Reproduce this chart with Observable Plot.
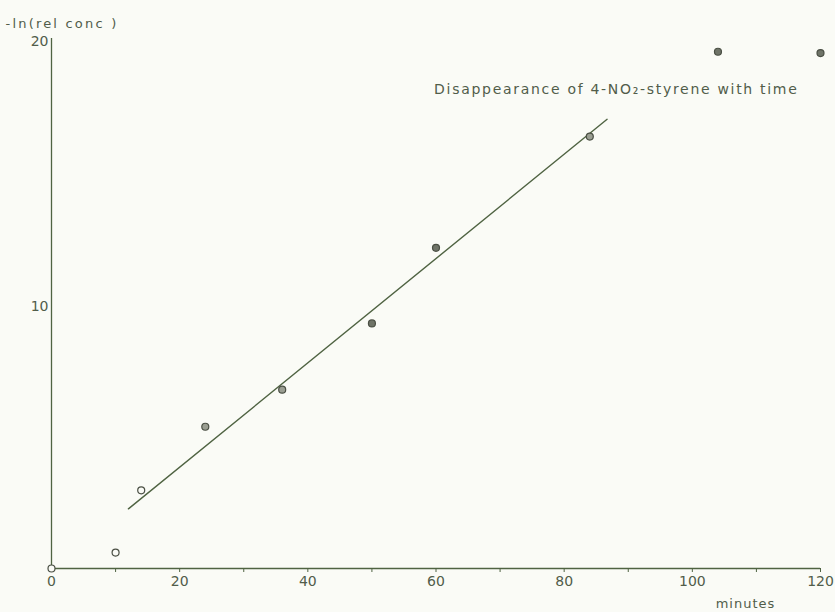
<!DOCTYPE html>
<html>
<head>
<meta charset="utf-8">
<script src="https://cdn.jsdelivr.net/npm/d3@7"></script>
<script src="https://cdn.jsdelivr.net/npm/@observablehq/plot@0.6"></script>
<style>
  html, body { margin: 0; padding: 0; background: #fafbf6; }
  #chart { width: 835px; height: 612px; }
</style>
</head>
<body>
<div id="chart"></div>
<script>
// Measured -ln(relative concentration) of 4-NO2-styrene against time
const minutes = [0, 10, 14, 24, 36, 50, 60, 84, 104, 120];
const lnConc  = [0, 0.6, 2.95, 5.35, 6.75, 9.25, 12.1, 16.3, 19.5, 19.45];
const marker  = ["open", "open", "open", "grey", "grey", "dark", "dark", "grey", "dark", "dark"];

// Straight-line fit drawn through the linear part of the decay
const fitMinutes = [12, 86.7];
const fitLnConc  = [2.25, 16.95];

// Axis ticks
const xTicks = [0, 10, 20, 30, 40, 50, 60, 70, 80, 90, 100, 110, 120];
const yTicks = [10, 20];

const titleText = "Disappearance of 4-NO₂-styrene with time";
const yLabelText = "-ln(rel conc )";
const xLabelText = "minutes";

const ink = "#4f6342";
const textInk = "#515d4a";

const points = minutes.map((m, i) => ({ m, v: lnConc[i], kind: marker[i] }));
const fit = fitMinutes.map((m, i) => ({ m, v: fitLnConc[i] }));
const fillFor = { open: "#fafbf6", grey: "#9a9e92", dark: "#6f7468" };

const chart = Plot.plot({
  width: 835,
  height: 612,
  marginLeft: 51,
  marginRight: 15,
  marginTop: 38,
  marginBottom: 44,
  style: { fontFamily: "DejaVu Sans", fontSize: "13px", color: textInk, background: "#fafbf6" },
  x: { domain: [0, 120] },
  y: { domain: [0, 20] },
  marks: [
    Plot.ruleX([0], { stroke: ink, strokeWidth: 1.3 }),
    Plot.ruleY([0], { stroke: ink, strokeWidth: 1.3 }),
    Plot.axisX({
      ticks: xTicks, tickSize: 4, tickPadding: 4, stroke: ink,
      tickFormat: d => d % 20 === 0 ? String(d) : "",
      fontSize: 14, fill: textInk, label: null
    }),
    Plot.axisY({
      ticks: yTicks, tickSize: 0, tickPadding: 3, dy: 3,
      fontSize: 14, fill: textInk, label: null
    }),
    Plot.line(fit, { x: "m", y: "v", stroke: ink, strokeWidth: 1.4 }),
    Plot.dot(points, {
      x: "m", y: "v", r: 3.5,
      stroke: "#4a4f44", strokeWidth: 1.2,
      fill: d => fillFor[d.kind]
    }),
    Plot.text([titleText], {
      frameAnchor: "top-right", dx: -22, dy: 46, textAnchor: "end",
      fill: textInk, fontSize: 14
    }),
    Plot.text([yLabelText], {
      frameAnchor: "top-left", dx: -46, dy: -20, textAnchor: "start",
      fill: textInk, fontSize: 13
    }),
    Plot.text([xLabelText], {
      frameAnchor: "bottom-right", dx: -75, dy: 39, textAnchor: "middle",
      fill: textInk, fontSize: 13
    })
  ]
});

// Widen the lettering of the hand-lettered labels
const spacing = new Map([[titleText, "1.7px"], [yLabelText, "2.2px"], [xLabelText, "1px"]]);
d3.select(chart).selectAll("text").each(function () {
  const ls = spacing.get(this.textContent);
  if (ls) this.setAttribute("letter-spacing", ls);
});

document.getElementById("chart").append(chart);
</script>
</body>
</html>
